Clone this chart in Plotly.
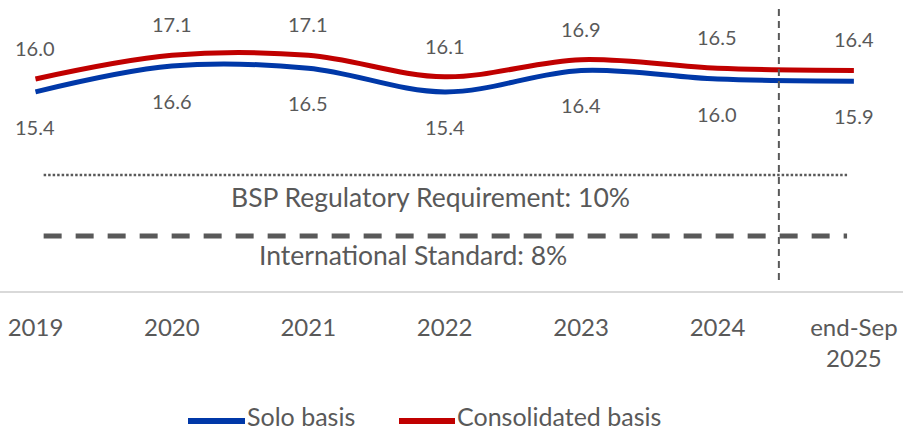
import plotly.graph_objects as go

# Capital adequacy ratios (%), solo vs consolidated
categories = ["2019", "2020", "2021", "2022", "2023", "2024", "end-Sep<br>2025"]
solo_basis = [15.4, 16.6, 16.5, 15.4, 16.4, 16.0, 15.9]
consolidated_basis = [16.0, 17.1, 17.1, 16.1, 16.9, 16.5, 16.4]

# Regulatory thresholds (%)
bsp_requirement = 10
international_standard = 8

BLUE = "#0038A8"
RED = "#C00000"
GREY_TEXT = "#595959"
FONT = "Lato"

x_idx = list(range(len(categories)))

fig = go.Figure()

fig.add_trace(go.Scatter(
    x=x_idx, y=solo_basis, mode="lines", name="Solo basis",
    line=dict(color=BLUE, width=5, shape="spline", smoothing=1.0),
    hoverinfo="skip", showlegend=False,
))
fig.add_trace(go.Scatter(
    x=x_idx, y=consolidated_basis, mode="lines", name="Consolidated basis",
    line=dict(color=RED, width=5, shape="spline", smoothing=1.0),
    hoverinfo="skip", showlegend=False,
))

# Threshold lines on their own scale
fig.add_trace(go.Scatter(
    x=[0.06, 5.95], y=[bsp_requirement] * 2, mode="lines", yaxis="y2",
    line=dict(color=GREY_TEXT, width=2.5, dash="2.5px,2px"),
    hoverinfo="skip", showlegend=False,
))
fig.add_trace(go.Scatter(
    x=[0.06, 5.95], y=[international_standard] * 2, mode="lines", yaxis="y2",
    line=dict(color=GREY_TEXT, width=5, dash="18px,14px"),
    hoverinfo="skip", showlegend=False,
))

annotations = []
for xi, v in zip(x_idx, consolidated_basis):
    annotations.append(dict(
        x=xi, y=v, xref="x", yref="y", text=f"{v:.1f}", showarrow=False,
        yshift=31, yanchor="middle", font=dict(family=FONT, size=20, color=GREY_TEXT),
    ))
for xi, v in zip(x_idx, solo_basis):
    annotations.append(dict(
        x=xi, y=v, xref="x", yref="y", text=f"{v:.1f}", showarrow=False,
        yshift=-35, yanchor="middle", font=dict(family=FONT, size=20, color=GREY_TEXT),
    ))

annotations.append(dict(
    x=2.895, y=bsp_requirement, xref="x", yref="y2",
    text=f"BSP Regulatory Requirement: {bsp_requirement}%", showarrow=False,
    yshift=-22, yanchor="middle", font=dict(family=FONT, size=26.5, color=GREY_TEXT),
))
annotations.append(dict(
    x=2.77, y=international_standard, xref="x", yref="y2",
    text=f"International Standard: {international_standard}%", showarrow=False,
    yshift=-19, yanchor="middle", font=dict(family=FONT, size=26.5, color=GREY_TEXT),
))

# Legend drawn below the axis
W, PLOT_H = 903, 291
def px(xp):
    return xp / W
def py(yp):
    return (PLOT_H - yp) / PLOT_H

legend_items = [("Solo basis", BLUE, 188, 245), ("Consolidated basis", RED, 399, 455)]
shapes = []
for label, color, x0, x1 in legend_items:
    shapes.append(dict(
        type="line", xref="paper", yref="paper",
        x0=px(x0), x1=px(x1), y0=py(421), y1=py(421),
        line=dict(color=color, width=6),
    ))
    annotations.append(dict(
        x=px(x1 + 1), y=py(416), xref="paper", yref="paper", text=label,
        showarrow=False, xanchor="left", yanchor="middle", borderpad=0,
        font=dict(family=FONT, size=25, color=GREY_TEXT),
    ))

# Separator between annual and latest data
shapes.append(dict(
    type="line", xref="x", yref="paper", x0=5.45, x1=5.45,
    y0=py(280), y1=py(8),
    line=dict(color=GREY_TEXT, width=2, dash="7px,5px"),
))

fig.update_layout(
    width=903, height=433,
    margin=dict(l=0, r=0, t=0, b=142),
    paper_bgcolor="white", plot_bgcolor="white",
    font=dict(family=FONT, color=GREY_TEXT),
    xaxis=dict(
        range=[-0.26, 6.36], tickmode="array", tickvals=x_idx, ticktext=categories,
        showgrid=False, zeroline=False, showline=True, linecolor="#D9D9D9",
        linewidth=1.5, ticks="", ticklabelstandoff=14,
        tickfont=dict(family=FONT, size=24, color=GREY_TEXT), fixedrange=True,
    ),
    yaxis=dict(range=[6.139, 19.674], visible=False, fixedrange=True),
    yaxis2=dict(range=[6.197, 15.738], overlaying="y", visible=False, fixedrange=True),
    annotations=annotations,
    shapes=shapes,
    showlegend=False,
)

fig.write_html("out.html")
